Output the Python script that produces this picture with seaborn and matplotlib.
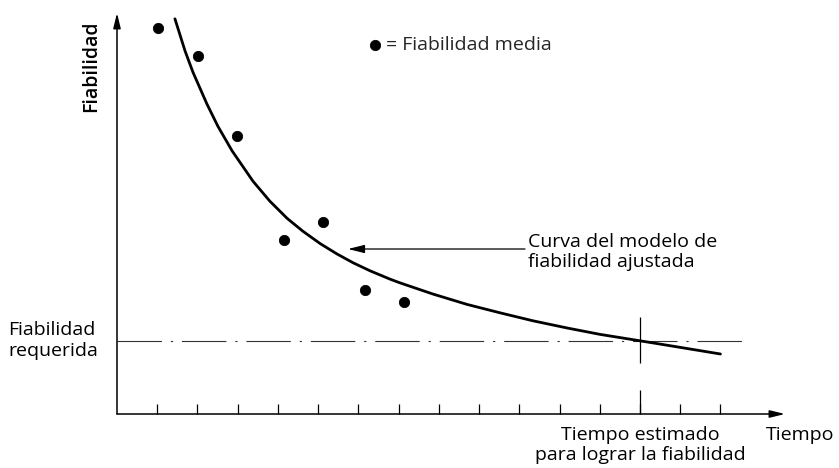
import seaborn as sns
import pandas as pd
import matplotlib
matplotlib.use("Agg")
import matplotlib.pyplot as plt

# observed mean reliability (time in tick units, reliability in arbitrary units)
obs_t = [1.02, 2.01, 2.98, 4.15, 5.12, 6.16, 7.13]
obs_r = [9.65, 8.95, 6.95, 4.35, 4.80, 3.10, 2.80]

# fitted reliability model curve
fit_t = [1.44, 1.69, 1.89, 2.24, 2.51, 2.86, 3.38, 3.80, 4.23, 4.62, 5.05, 5.47,
         5.87, 6.29, 6.79, 7.03, 7.85, 8.70, 9.52, 10.34, 11.19, 12.01, 13.00,
         13.67, 15.00]
fit_r = [9.88, 9.08, 8.54, 7.74, 7.19, 6.58, 5.82, 5.32, 4.89, 4.57, 4.26, 4.00,
         3.78, 3.58, 3.37, 3.28, 3.00, 2.74, 2.53, 2.33, 2.15, 1.99, 1.83,
         1.72, 1.50]

required_r = 1.83
estimated_t = 13
x_ticks = list(range(1, 16))

obs = pd.DataFrame({"t": obs_t, "r": obs_r})
fit = pd.DataFrame({"t": fit_t, "r": fit_r})

sns.set_style("white")
plt.rcParams["font.family"] = ["Open Sans", "DejaVu Sans"]

fig = plt.figure(figsize=(8.39, 4.68), dpi=100)
W, H = 839, 468
x0, y0 = 117, 414          # origin in pixels
px_x, px_y = 40.23, 40.0   # pixels per unit
xmax, ymax = (785 - x0) / px_x, (y0 - 13) / px_y
ax = fig.add_axes([x0 / W, (H - y0) / H, (785 - x0) / W, (y0 - 13) / H])
ax.set_xlim(0, xmax)
ax.set_ylim(0, ymax)
for s in ax.spines.values():
    s.set_visible(False)

# axes with arrows
arrow = dict(arrowstyle="-|>,head_length=0.9,head_width=0.22", lw=1.1, color="black",
             shrinkA=0, shrinkB=0)
ax.annotate("", xy=(1, 0), xytext=(0, 0), xycoords="axes fraction", arrowprops=arrow)
ax.annotate("", xy=(0, 1), xytext=(0, 0), xycoords="axes fraction", arrowprops=arrow)

ax.set_xticks(x_ticks)
ax.set_yticks([])
ax.tick_params(axis="x", direction="in", length=7, width=0.9, color="black",
               labelbottom=False, bottom=True)

# required reliability line and estimated time marker
ax.axhline(required_r, xmin=0, xmax=15.73 / xmax, color="#333333", lw=0.8,
           linestyle=(0, (40, 8, 2, 8)))
ax.vlines(estimated_t, required_r - 0.55, required_r + 0.6, color="black", lw=0.9)
ax.vlines(estimated_t, 0, 0.6, color="black", lw=0.9)

sns.lineplot(data=fit, x="t", y="r", sort=False, estimator=None, color="black",
             lw=2.0, ax=ax, legend=False)
sns.scatterplot(data=obs, x="t", y="r", color="black", s=55, edgecolor="black",
                ax=ax, label="= Fiabilidad media", zorder=5)
ax.set_xlabel("")
ax.set_ylabel("")

fs = 14
ax.legend(loc="center left", bbox_to_anchor=(370 / W, 1 - 45 / H),
          bbox_transform=fig.transFigure, frameon=False, handlelength=0.5,
          handletextpad=0.3, borderpad=0, borderaxespad=0, fontsize=fs)

ax.annotate("", xy=((348 - x0) / px_x, (y0 - 249) / px_y),
            xytext=((525 - x0) / px_x, (y0 - 249) / px_y),
            arrowprops=dict(arrowstyle="-|>,head_length=1.0,head_width=0.25",
                            lw=0.9, color="black", shrinkA=0, shrinkB=0))
ax.text((528 - x0) / px_x, (y0 - 252) / px_y, "Curva del modelo de\nfiabilidad ajustada",
        ha="left", va="center", fontsize=fs, linespacing=1.2, color="black")
ax.text((8 - x0) / px_x, required_r, "Fiabilidad\nrequerida", ha="left", va="center",
        fontsize=fs, linespacing=1.2, clip_on=False, color="black")
ax.text(estimated_t, (y0 - 445) / px_y, "Tiempo estimado\npara lograr la fiabilidad",
        ha="center", va="center", fontsize=fs, linespacing=1.15, clip_on=False,
        color="black")
ax.text((766 - x0) / px_x, (y0 - 435) / px_y, "Tiempo", ha="left", va="center",
        fontsize=fs, clip_on=False, color="black")
ax.text((91 - x0) / px_x, (y0 - 66) / px_y, "Fiabilidad", ha="center", va="center",
        rotation=90, fontsize=fs, fontweight="semibold", clip_on=False, color="black")

fig.savefig("out.png", dpi=100)
